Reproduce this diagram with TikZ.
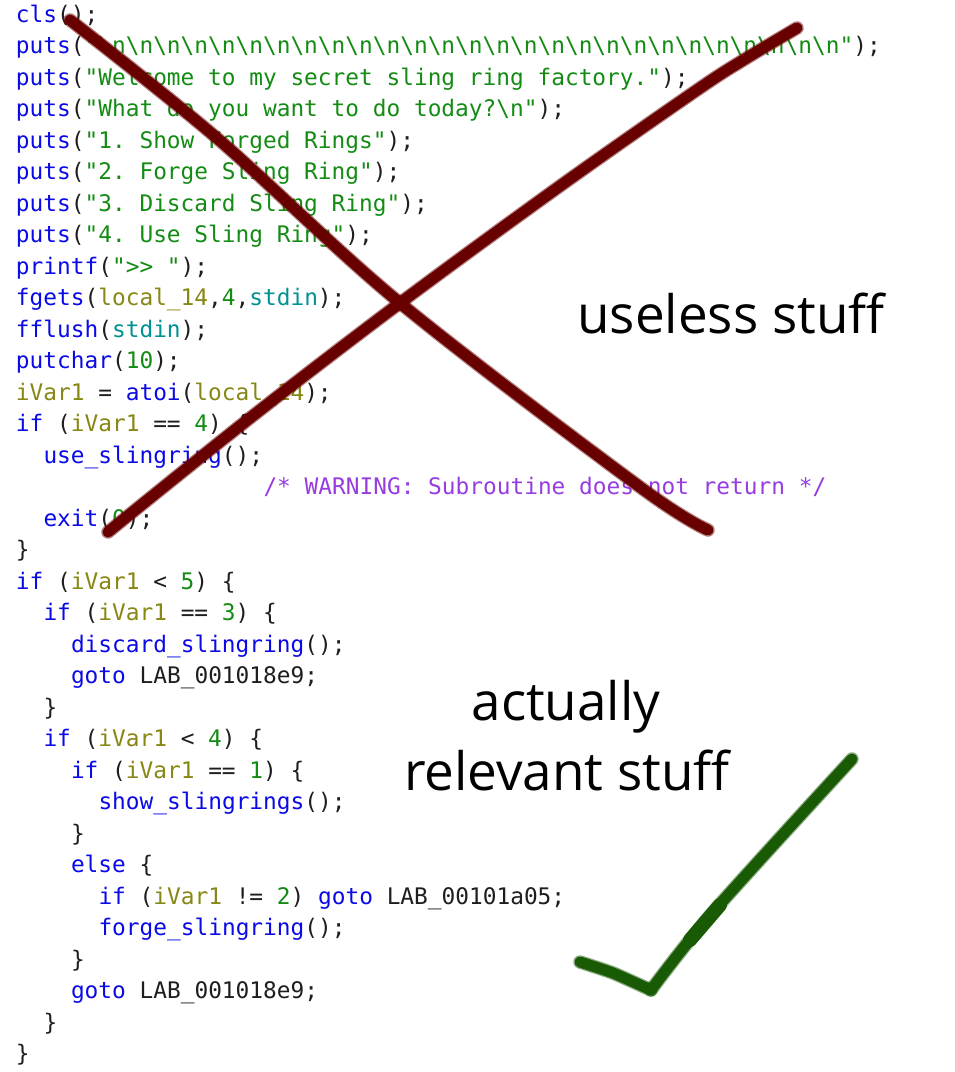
\documentclass[tikz,border=0pt]{standalone}
\usepackage{fontspec}
\setmonofont{DejaVu Sans Mono}
\newfontfamily\labelfont{Open Sans}
\definecolor{fncol}{RGB}{10,10,230}
\definecolor{strcol}{RGB}{20,140,20}
\definecolor{varcol}{RGB}{135,135,20}
\definecolor{glcol}{RGB}{0,145,145}
\definecolor{cmcol}{RGB}{150,60,225}
\definecolor{txtcol}{RGB}{30,30,30}
\definecolor{xcol}{RGB}{105,0,0}
\definecolor{ckcol}{RGB}{25,90,5}
\newcommand\fn[1]{\textcolor{fncol}{#1}}
\newcommand\kw[1]{\textcolor{fncol}{#1}}
\newcommand\st[1]{\textcolor{strcol}{#1}}
\newcommand\va[1]{\textcolor{varcol}{#1}}
\newcommand\gl[1]{\textcolor{glcol}{#1}}
\newcommand\cm[1]{\textcolor{cmcol}{#1}}
\newcommand\nlx{\textbackslash n}
\newcommand\codeline[3]{\node[codetxt] (L#1) at ({16+#2*13.75},{-9.5+#1*31.5}) {#3};}
\begin{document}
\begin{tikzpicture}[x=1pt,y=-1pt,
  codetxt/.style={anchor=base west,inner sep=0pt,outer sep=0pt,text=txtcol,
    font=\ttfamily\fontsize{22.8}{27}\selectfont},
  bigtxt/.style={anchor=base,inner sep=0pt,outer sep=0pt,text=black,
    font=\labelfont\fontsize{53}{60}\selectfont},
  xstroke/.style={draw=xcol,line width=11pt,line cap=round,line join=round},
  xhalo/.style={draw=xcol,line width=13.5pt,line cap=round,line join=round,opacity=0.5},
  ckstroke/.style={draw=ckcol,line width=11pt,line cap=round,line join=round},
  ckhalo/.style={draw=ckcol,line width=13.5pt,line cap=round,line join=round,opacity=0.5}]
\useasboundingbox[fill=white] (0,0) rectangle (955,1072);
\codeline{1}{0}{\fn{cls}();}
\codeline{2}{0}{\fn{puts}(\st{"\nlx\nlx\nlx\nlx\nlx\nlx\nlx\nlx\nlx\nlx\nlx\nlx\nlx\nlx\nlx\nlx\nlx\nlx\nlx\nlx\nlx\nlx\nlx\nlx\nlx\nlx\nlx"});}
\codeline{3}{0}{\fn{puts}(\st{"Welcome to my secret sling ring factory."});}
\codeline{4}{0}{\fn{puts}(\st{"What do you want to do today?\nlx"});}
\codeline{5}{0}{\fn{puts}(\st{"1. Show Forged Rings"});}
\codeline{6}{0}{\fn{puts}(\st{"2. Forge Sling Ring"});}
\codeline{7}{0}{\fn{puts}(\st{"3. Discard Sling Ring"});}
\codeline{8}{0}{\fn{puts}(\st{"4. Use Sling Ring"});}
\codeline{9}{0}{\fn{printf}(\st{">> "});}
\codeline{10}{0}{\fn{fgets}(\va{local\_14},\st{4},\gl{stdin});}
\codeline{11}{0}{\fn{fflush}(\gl{stdin});}
\codeline{12}{0}{\fn{putchar}(\st{10});}
\codeline{13}{0}{\va{iVar1} = \fn{atoi}(\va{local\_14});}
\codeline{14}{0}{\kw{if} (\va{iVar1} == \st{4}) \{}
\codeline{15}{2}{\fn{use\_slingring}();}
\codeline{16}{18}{\cm{/* WARNING: Subroutine does not return */}}
\codeline{17}{2}{\fn{exit}(\st{0});}
\codeline{18}{0}{\}}
\codeline{19}{0}{\kw{if} (\va{iVar1} < \st{5}) \{}
\codeline{20}{2}{\kw{if} (\va{iVar1} == \st{3}) \{}
\codeline{21}{4}{\fn{discard\_slingring}();}
\codeline{22}{4}{\kw{goto} LAB\_001018e9;}
\codeline{23}{2}{\}}
\codeline{24}{2}{\kw{if} (\va{iVar1} < \st{4}) \{}
\codeline{25}{4}{\kw{if} (\va{iVar1} == \st{1}) \{}
\codeline{26}{6}{\fn{show\_slingrings}();}
\codeline{27}{4}{\}}
\codeline{28}{4}{\kw{else} \{}
\codeline{29}{6}{\kw{if} (\va{iVar1} != \st{2}) \kw{goto} LAB\_00101a05;}
\codeline{30}{6}{\fn{forge\_slingring}();}
\codeline{31}{4}{\}}
\codeline{32}{4}{\kw{goto} LAB\_001018e9;}
\codeline{33}{2}{\}}
\codeline{34}{0}{\}}
% labels
\node[bigtxt] (useless) at (731,333) {useless stuff};
\node[bigtxt] (actually) at (566,720) {actually};
\node[bigtxt] (relevant) at (567,790) {relevant stuff};
% red cross
\foreach \s in {xhalo,xstroke}{
  \draw[\s] plot[smooth,tension=0.55] coordinates {(70,20) (218,139) (400,303) (640,487) (708,530)};
  \draw[\s] plot[smooth,tension=0.55] coordinates {(797,28) (745,59) (697,90) (560,186) (400,303) (250,418) (108,532)};
}
% green check
\foreach \s in {ckhalo,ckstroke}{
  \draw[\s] plot[smooth,tension=0.3] coordinates {(580,962) (613,973) (651,990)};
  \draw[\s] plot[smooth,tension=0.5] coordinates {(651,990) (713,912) (852,759)};
}
\draw[ckcol,line width=14pt,line cap=round] (690,940) -- (720,905);
\end{tikzpicture}
\end{document}
